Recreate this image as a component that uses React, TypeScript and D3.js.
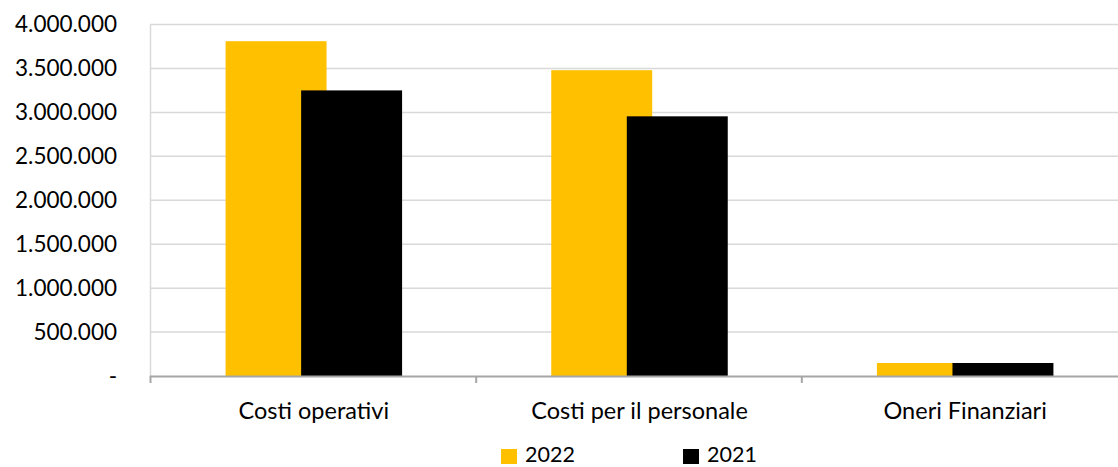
import React from 'react';
import * as d3 from 'd3';

const categories = ['Costi operativi', 'Costi per il personale', 'Oneri Finanziari'];
const series = ['2022', '2021'];
const values2022 = [3810000, 3480000, 148000];
const values2021 = [3250000, 2955000, 148000];
const yTicks = [0, 500000, 1000000, 1500000, 2000000, 2500000, 3000000, 3500000, 4000000];
const colors = ['#FFC000', '#000000'];

const W = 1118;
const H = 467;
const FONT = 'Lato, "Open Sans", sans-serif';

const fmt = (v: number) => (v === 0 ? '-' : d3.format(',')(v).replace(/,/g, '.'));

const App = () => {
    const x = d3.scaleBand().domain(categories).range([151, 1128]);
    const y = d3.scaleLinear().domain([0, 4000000]).range([376, 24.5]);
    const barW = x.bandwidth() * 0.31;
    const step = x.bandwidth() * 0.232;
    const data = [values2022, values2021];

    return (
        <svg width={W} height={H} style={{ position: 'absolute', left: 0, top: 0 }} fontFamily={FONT}>
            <rect width={W} height={H} fill="#fff" />
            {yTicks.map(t => (
                <g key={t}>
                    {t > 0 && <line x1={150} x2={W} y1={y(t)} y2={y(t)} stroke="#D9D9D9" strokeWidth={1.5} />}
                    <text x={117} y={y(t)} dy="0.35em" textAnchor="end" fontSize={22.5} fill="#000">{fmt(t)}</text>
                </g>
            ))}
            <line x1={150.5} x2={150.5} y1={y(4000000)} y2={376} stroke="#D9D9D9" strokeWidth={1.5} />
            {data.map((vals, s) =>
                categories.map((c, i) => {
                    const center = (x(c) as number) + x.bandwidth() / 2;
                    const left = center - (step + barW) / 2 + s * step;
                    return (
                        <rect key={s + c} x={left} y={y(vals[i])} width={barW} height={y(0) - y(vals[i])} fill={colors[s]} />
                    );
                })
            )}
            <line x1={150} x2={W} y1={376.5} y2={376.5} stroke="#A6A6A6" strokeWidth={2} />
            {[0, 1, 2].map(i => {
                const xx = (x(categories[i]) as number) - 0.5;
                return <line key={i} x1={xx} x2={xx} y1={376} y2={383} stroke="#A6A6A6" strokeWidth={2} />;
            })}
            {categories.map(c => (
                <text key={c} x={(x(c) as number) + x.bandwidth() / 2} y={411} dy="0.35em" textAnchor="middle" fontSize={23.5}>{c}</text>
            ))}
            {series.map((s, i) => {
                const lx = [501, 683][i];
                return (
                    <g key={s}>
                        <rect x={lx} y={449} width={16} height={15} fill={colors[i]} />
                        <text x={lx + 24} y={462} fontSize={21.5}>{s}</text>
                    </g>
                );
            })}
        </svg>
    );
};

export default App;
